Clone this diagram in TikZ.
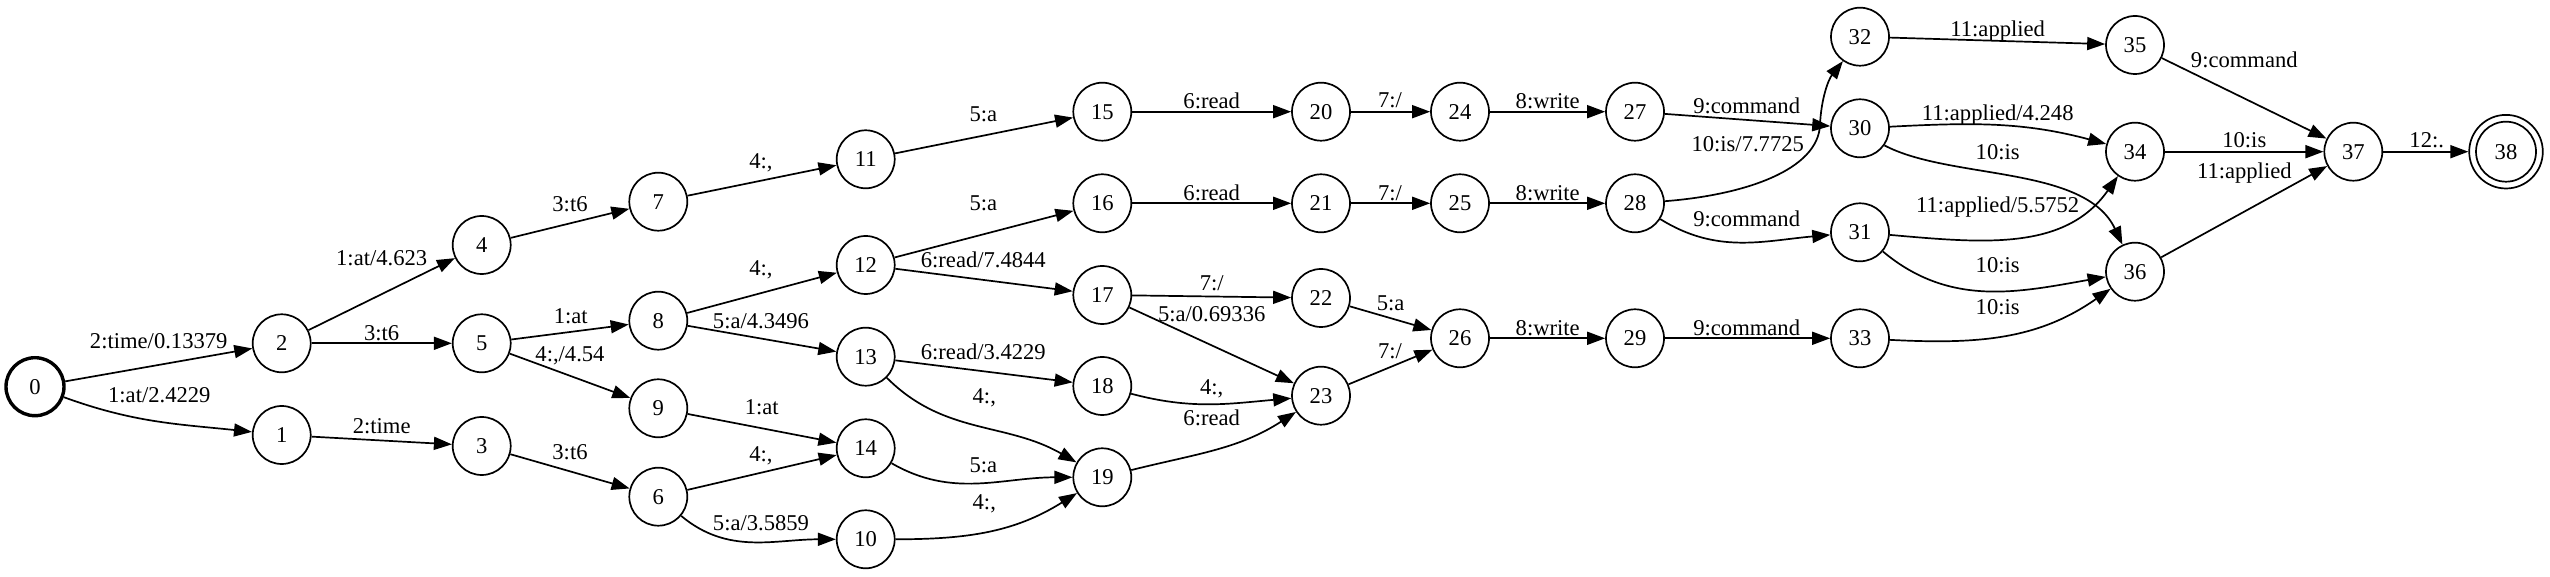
\documentclass[tikz,border=0pt]{standalone}
\usepackage{fontspec}
\setmainfont{Liberation Serif}
\usetikzlibrary{arrows.meta}
\newcommand\lblfont{\fontsize{11.3}{13.6}\selectfont}
\begin{document}
\begin{tikzpicture}[x=0.5pt,y=0.5pt,
  st/.style={circle,draw,line width=0.85pt,minimum size=29pt,inner sep=0pt,font=\lblfont},
  e/.style={draw,line width=0.85pt,-{Triangle[length=9pt,width=6.5pt]}},
  lbl/.style={inner sep=0pt,anchor=base,font=\lblfont}]
\useasboundingbox (0,0) rectangle (2550,577);
% states
\node[st,line width=1.7pt] (n0) at (35,190.3) {0};
\node[st] (n1) at (281.7,142) {1};
\node[st] (n2) at (281.7,233.7) {2};
\node[st] (n3) at (481.7,131) {3};
\node[st] (n4) at (481.7,332) {4};
\node[st] (n5) at (481.7,233.7) {5};
\node[st] (n6) at (658.3,80.3) {6};
\node[st] (n7) at (658.3,375.3) {7};
\node[st] (n8) at (658.3,256.3) {8};
\node[st] (n9) at (658.3,168.7) {9};
\node[st] (n10) at (865.7,37.7) {10};
\node[st] (n11) at (865.7,417.7) {11};
\node[st] (n12) at (865.7,312) {12};
\node[st] (n13) at (865.7,220.3) {13};
\node[st] (n14) at (865.7,128.7) {14};
\node[st] (n15) at (1102.3,465.3) {15};
\node[st] (n16) at (1102.3,373.7) {16};
\node[st] (n17) at (1102.3,282) {17};
\node[st] (n18) at (1102.3,191) {18};
\node[st] (n19) at (1102.3,99.7) {19};
\node[st] (n20) at (1321,465.3) {20};
\node[st] (n21) at (1321,373.7) {21};
\node[st] (n22) at (1321,279) {22};
\node[st] (n23) at (1321,181.3) {23};
\node[st] (n24) at (1460,465.3) {24};
\node[st] (n25) at (1460,373.7) {25};
\node[st] (n26) at (1460,238.7) {26};
\node[st] (n27) at (1635,465.3) {27};
\node[st] (n28) at (1635,373.7) {28};
\node[st] (n29) at (1635,238.7) {29};
\node[st] (n30) at (1860,448.7) {30};
\node[st] (n31) at (1860,344.7) {31};
\node[st] (n32) at (1860,540.3) {32};
\node[st] (n33) at (1860,238.7) {33};
\node[st] (n34) at (2135,425.3) {34};
\node[st] (n35) at (2135,532) {35};
\node[st] (n36) at (2135,305.3) {36};
\node[st] (n37) at (2353.3,425.3) {37};
\node[st,minimum size=36.8pt] (n38) at (2506,425.3) {38};
\draw[line width=0.85pt] (n38.center) circle (15pt);
% transitions
\draw[e] (n0) -- (n2);
\draw[e] (n0) to[out=-20,in=174] (n1);
\draw[e] (n2) -- (n4);
\draw[e] (n2) -- (n5);
\draw[e] (n1) -- (n3);
\draw[e] (n4) -- (n7);
\draw[e] (n5) -- (n8);
\draw[e] (n5) -- (n9);
\draw[e] (n3) -- (n6);
\draw[e] (n7) -- (n11);
\draw[e] (n8) -- (n12);
\draw[e] (n8) -- (n13);
\draw[e] (n9) -- (n14);
\draw[e] (n6) -- (n14);
\draw[e] (n6) to[out=-40,in=180] (n10);
\draw[e] (n11) -- (n15);
\draw[e] (n12) -- (n16);
\draw[e] (n12) -- (n17);
\draw[e] (n13) -- (n18);
\draw[e] (n13) to[out=-45,in=150] (n19);
\draw[e] (n14) to[out=-30,in=180] (n19);
\draw[e] (n10) to[out=0,in=212] (n19);
\draw[e] (n15) -- (n20);
\draw[e] (n16) -- (n21);
\draw[e] (n17) -- (n22);
\draw[e] (n17) -- (n23);
\draw[e] (n18) to[out=-15,in=185] (n23);
\draw[e] (n19) to[out=14,in=213] (n23);
\draw[e] (n20) -- (n24);
\draw[e] (n21) -- (n25);
\draw[e] (n22) -- (n26);
\draw[e] (n23) -- (n26);
\draw[e] (n24) -- (n27);
\draw[e] (n25) -- (n28);
\draw[e] (n26) -- (n29);
\draw[e] (n27) -- (n30);
\draw[e] (n28.4) .. controls (1745,382) and (1818,407) .. (1820,452) .. controls (1821,477) and (1828,497) .. (n32.235);
\draw[e] (n28) to[out=-32,in=185] (n31);
\draw[e] (n29) -- (n33);
\draw[e] (n32) -- (n35);
\draw[e] (n30) to[out=3,in=165] (n34);
\draw[e] (n30.-35) .. controls (1950,397) and (2085,412) .. (n36.115);
\draw[e] (n31) to[out=-5,in=235] (n34);
\draw[e] (n31) to[out=-40,in=190] (n36);
\draw[e] (n33) to[out=-3,in=215] (n36);
\draw[e] (n35) -- (n37);
\draw[e] (n34) -- (n37);
\draw[e] (n36) -- (n37);
\draw[e] (n37) -- (n38);
% labels
\node[lbl] (t1) at (158.7,228.8) {2:time/0.13379};
\node[lbl] (t2) at (159.3,174.5) {1:at/2.4229};
\node[lbl] (t3) at (381.7,311.2) {1:at/4.623};
\node[lbl] (t4) at (381.7,236.2) {3:t6};
\node[lbl] (t5) at (381.7,143.5) {2:time};
\node[lbl] (t6) at (570,365.5) {3:t6};
\node[lbl] (t7) at (570.7,253.8) {1:at};
\node[lbl] (t8) at (570,215.5) {4:,/4.54};
\node[lbl] (t9) at (570,117.8) {3:t6};
\node[lbl] (t10) at (761,408.8) {4:,};
\node[lbl] (t11) at (761,301.2) {4:,};
\node[lbl] (t12) at (761,248.8) {5:a/4.3496};
\node[lbl] (t13) at (761.7,162.2) {1:at};
\node[lbl] (t14) at (761,115.5) {4:,};
\node[lbl] (t15) at (761,46.2) {5:a/3.5859};
\node[lbl] (t16) at (983.3,455.2) {5:a};
\node[lbl] (t17) at (1211.7,468.8) {6:read};
\node[lbl] (t18) at (983.3,366.2) {5:a};
\node[lbl] (t19) at (1211.7,376.8) {6:read};
\node[lbl] (t20) at (983.3,309.5) {6:read/7.4844};
\node[lbl] (t21) at (1211.7,286.2) {7:/};
\node[lbl] (t22) at (1211.7,255.5) {5:a/0.69336};
\node[lbl] (t23) at (983.3,217.8) {6:read/3.4229};
\node[lbl] (t24) at (984.3,173.8) {4:,};
\node[lbl] (t25) at (1211.7,182.2) {4:,};
\node[lbl] (t26) at (1211.7,151.2) {6:read};
\node[lbl] (t27) at (983.3,104.5) {5:a};
\node[lbl] (t28) at (984.3,67.2) {4:,};
\node[lbl] (t29) at (1390,469.5) {7:/};
\node[lbl] (t30) at (1547.7,468.8) {8:write};
\node[lbl] (t31) at (1746.7,463.5) {9:command};
\node[lbl] (t32) at (1747.7,425.2) {10:is/7.7725};
\node[lbl] (t33) at (1390,376.8) {7:/};
\node[lbl] (t34) at (1547.7,376.8) {8:write};
\node[lbl] (t35) at (1746.7,350.2) {9:command};
\node[lbl] (t36) at (1390.7,266.8) {5:a};
\node[lbl] (t37) at (1390,218.8) {7:/};
\node[lbl] (t38) at (1547.7,241.8) {8:write};
\node[lbl] (t39) at (1746.7,241.2) {9:command};
\node[lbl] (t40) at (1997.7,540.2) {11:applied};
\node[lbl] (t41) at (1997.7,456.2) {11:applied/4.248};
\node[lbl] (t42) at (1997.7,417.8) {10:is};
\node[lbl] (t43) at (1997.7,364.5) {11:applied/5.5752};
\node[lbl] (t44) at (1997.7,304.5) {10:is};
\node[lbl] (t45) at (1997.7,262.2) {10:is};
\node[lbl] (t46) at (2244.3,509.5) {9:command};
\node[lbl] (t47) at (2244.3,429.5) {10:is};
\node[lbl] (t48) at (2244.3,398.8) {11:applied};
\node[lbl] (t49) at (2426.7,429.5) {12:.};
\end{tikzpicture}
\end{document}
